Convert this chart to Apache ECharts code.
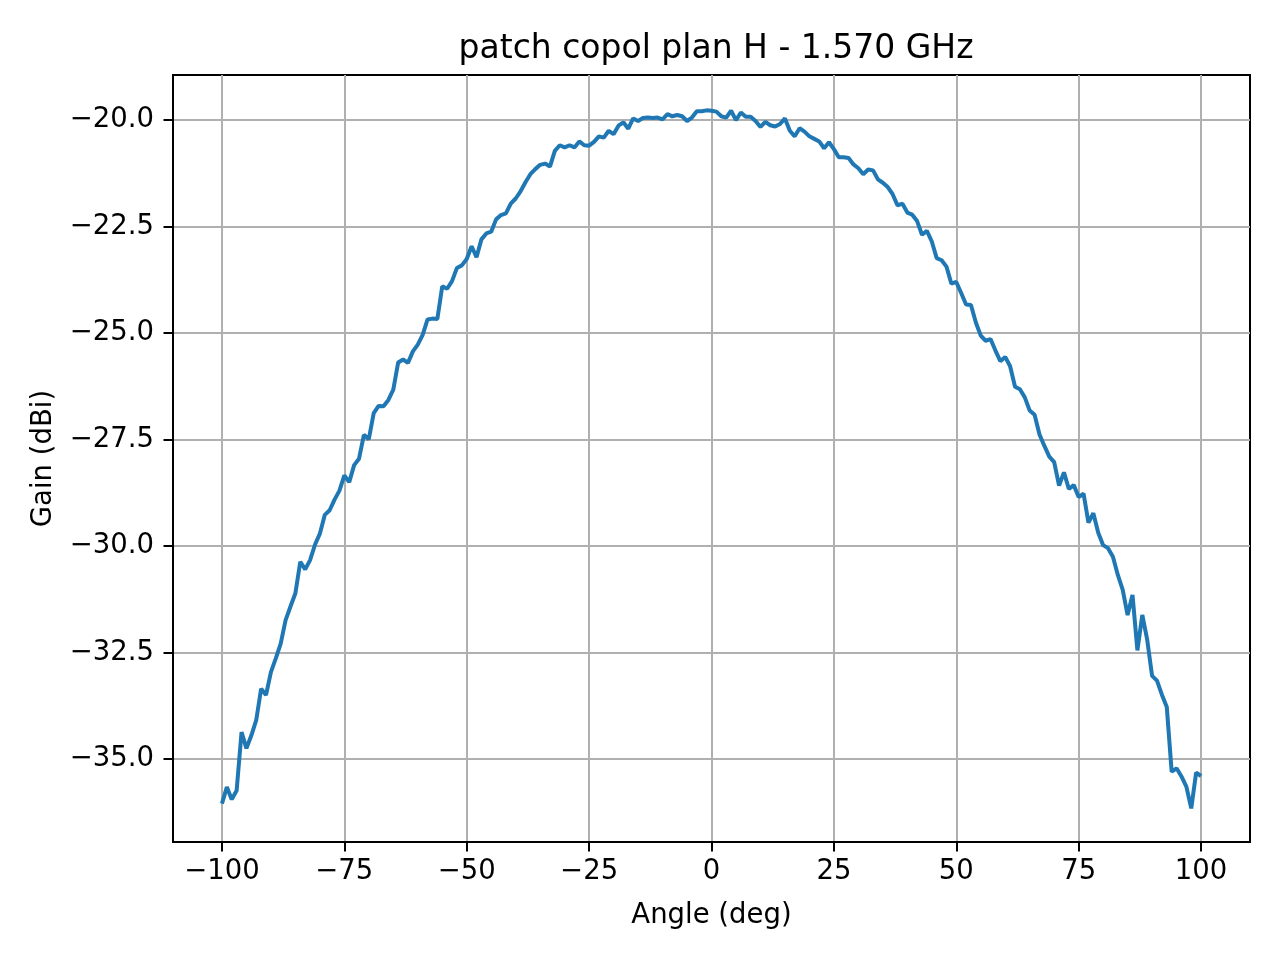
<!DOCTYPE html>
<html>
<head>
<meta charset="utf-8">
<title>patch copol plan H</title>
<script src="https://cdn.jsdelivr.net/npm/echarts@6/dist/echarts.min.js"></script>
<style>
  html, body { margin: 0; padding: 0; background: #fff; }
  #chart { width: 1280px; height: 960px; }
</style>
</head>
<body>
<div id="chart"></div>
<script>
// angles measured (deg), one sample per degree
const angles = [
  -100, -99, -98, -97, -96, -95, -94, -93, -92, -91,
  -90, -89, -88, -87, -86, -85, -84, -83, -82, -81,
  -80, -79, -78, -77, -76, -75, -74, -73, -72, -71,
  -70, -69, -68, -67, -66, -65, -64, -63, -62, -61,
  -60, -59, -58, -57, -56, -55, -54, -53, -52, -51,
  -50, -49, -48, -47, -46, -45, -44, -43, -42, -41,
  -40, -39, -38, -37, -36, -35, -34, -33, -32, -31,
  -30, -29, -28, -27, -26, -25, -24, -23, -22, -21,
  -20, -19, -18, -17, -16, -15, -14, -13, -12, -11,
  -10, -9, -8, -7, -6, -5, -4, -3, -2, -1,
  0, 1, 2, 3, 4, 5, 6, 7, 8, 9,
  10, 11, 12, 13, 14, 15, 16, 17, 18, 19,
  20, 21, 22, 23, 24, 25, 26, 27, 28, 29,
  30, 31, 32, 33, 34, 35, 36, 37, 38, 39,
  40, 41, 42, 43, 44, 45, 46, 47, 48, 49,
  50, 51, 52, 53, 54, 55, 56, 57, 58, 59,
  60, 61, 62, 63, 64, 65, 66, 67, 68, 69,
  70, 71, 72, 73, 74, 75, 76, 77, 78, 79,
  80, 81, 82, 83, 84, 85, 86, 87, 88, 89,
  90, 91, 92, 93, 94, 95, 96, 97, 98, 99,
  100
];

// gain (dBi)
const gains = [
  -36.05, -35.66, -35.95, -35.74, -34.37, -34.75, -34.45, -34.09, -33.35, -33.50,
  -32.96, -32.64, -32.29, -31.74, -31.42, -31.11, -30.37, -30.55, -30.33, -29.97,
  -29.71, -29.27, -29.16, -28.91, -28.70, -28.34, -28.50, -28.10, -27.95, -27.39,
  -27.49, -26.88, -26.71, -26.72, -26.57, -26.33, -25.69, -25.62, -25.70, -25.43,
  -25.27, -25.04, -24.68, -24.66, -24.67, -23.90, -23.96, -23.78, -23.47, -23.41,
  -23.26, -22.96, -23.22, -22.80, -22.66, -22.62, -22.33, -22.23, -22.19, -21.96,
  -21.84, -21.67, -21.46, -21.27, -21.15, -21.05, -21.02, -21.09, -20.72, -20.59,
  -20.64, -20.59, -20.64, -20.50, -20.59, -20.60, -20.51, -20.38, -20.41, -20.25,
  -20.33, -20.13, -20.05, -20.20, -19.96, -20.02, -19.95, -19.94, -19.95, -19.94,
  -19.98, -19.86, -19.91, -19.88, -19.91, -20.02, -19.94, -19.79, -19.79, -19.77,
  -19.78, -19.80, -19.91, -19.94, -19.78, -20.00, -19.82, -19.92, -19.92, -20.02,
  -20.16, -20.04, -20.12, -20.15, -20.09, -19.96, -20.25, -20.38, -20.19, -20.27,
  -20.38, -20.44, -20.50, -20.66, -20.52, -20.68, -20.87, -20.87, -20.89, -21.04,
  -21.13, -21.27, -21.16, -21.18, -21.39, -21.47, -21.57, -21.74, -22.00, -21.96,
  -22.17, -22.22, -22.37, -22.69, -22.60, -22.85, -23.24, -23.29, -23.44, -23.84,
  -23.80, -24.06, -24.33, -24.34, -24.75, -25.06, -25.18, -25.14, -25.41, -25.66,
  -25.56, -25.78, -26.26, -26.32, -26.51, -26.82, -26.92, -27.38, -27.65, -27.90,
  -28.03, -28.58, -28.27, -28.66, -28.57, -28.85, -28.77, -29.45, -29.23, -29.69,
  -29.98, -30.05, -30.25, -30.68, -31.03, -31.62, -31.15, -32.45, -31.62, -32.20,
  -33.05, -33.16, -33.49, -33.78, -35.30, -35.22, -35.41, -35.65, -36.16, -35.32,
  -35.40
];

// tick positions
const xTicks = [-100, -75, -50, -25, 0, 25, 50, 75, 100];
const yTicks = [-35, -32.5, -30, -27.5, -25, -22.5, -20];

const chart = echarts.init(document.getElementById('chart'));

const font = 'DejaVu Sans';
const minus = s => s.replace('-', '\u2212');

const option = {
  animation: false,
  backgroundColor: '#fff',
  title: {
    text: 'patch copol plan H - 1.570 GHz',
    left: 711,
    top: 28,
    textAlign: 'center',
    textStyle: { fontFamily: font, fontSize: 33, fontWeight: 'normal', color: '#000' }
  },
  grid: {
    left: 173, top: 75, right: 30, bottom: 118,
    show: true, borderColor: '#000', borderWidth: 2, backgroundColor: 'transparent'
  },
  xAxis: {
    type: 'value',
    min: -110, max: 110,
    name: 'Angle (deg)',
    nameLocation: 'middle',
    nameGap: 60,
    nameTextStyle: { fontFamily: font, fontSize: 27.5, color: '#000' },
    axisLine: { show: true, onZero: false, lineStyle: { color: '#000', width: 2 } },
    axisTick: { show: true, length: 9.5, customValues: xTicks, lineStyle: { color: '#000', width: 2 } },
    axisLabel: {
      customValues: xTicks,
      margin: 16,
      fontFamily: font, fontSize: 27.5, color: '#000',
      formatter: v => minus(String(v))
    },
    splitLine: { show: true, lineStyle: { color: '#b0b0b0', width: 2 } }
  },
  yAxis: {
    type: 'value',
    min: -36.95, max: -18.94,
    name: 'Gain (dBi)',
    nameLocation: 'middle',
    nameGap: 115,
    nameTextStyle: { fontFamily: font, fontSize: 27.5, color: '#000' },
    axisLine: { show: true, onZero: false, lineStyle: { color: '#000', width: 2 } },
    axisTick: { show: true, length: 9.5, customValues: yTicks, lineStyle: { color: '#000', width: 2 } },
    axisLabel: {
      customValues: yTicks,
      margin: 19,
      fontFamily: font, fontSize: 27.5, color: '#000',
      formatter: v => minus(v.toFixed(1))
    },
    splitLine: { show: true, lineStyle: { color: '#b0b0b0', width: 2 } }
  },
  series: [{
    type: 'line',
    data: angles.map((a, i) => [a, gains[i]]),
    showSymbol: false,
    lineStyle: { color: '#1f77b4', width: 4 },
    itemStyle: { color: '#1f77b4' }
  }]
};

chart.setOption(option);
</script>
</body>
</html>
